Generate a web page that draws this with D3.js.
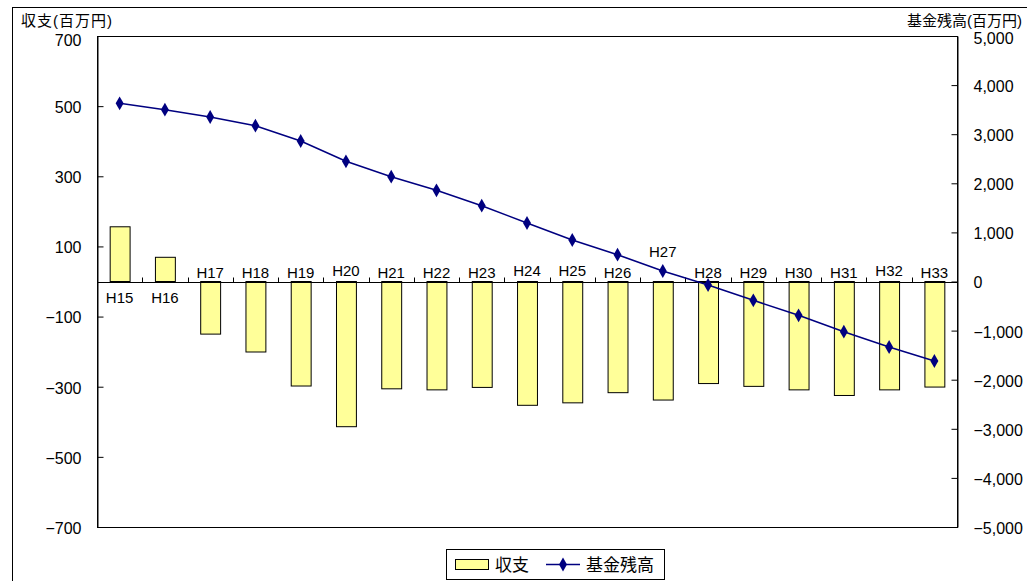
<!DOCTYPE html>
<html>
<head>
<meta charset="utf-8">
<script src="https://cdn.jsdelivr.net/npm/d3@7"></script>
<style>
  body { margin: 0; background: #fff; }
  svg text { font-family: "Liberation Sans", Arial, "Noto Sans CJK JP", sans-serif; fill: #000; }
</style>
</head>
<body>
<svg id="chart" width="1027" height="581"></svg>
<script>
// ----------------------------------------------------------------------------
// Data
// ----------------------------------------------------------------------------

var years = ["H15", "H16", "H17", "H18", "H19", "H20", "H21", "H22", "H23", "H24",
             "H25", "H26", "H27", "H28", "H29", "H30", "H31", "H32", "H33"];

// 収支 (百万円), left axis
var balance = [156, 69, -150, -201, -298, -414, -306, -309, -302, -353,
               -346, -317, -338, -291, -299, -309, -325, -309, -301];

// 基金残高 (百万円), right axis
var fund = [3629, 3499, 3350, 3173, 2862, 2448, 2134, 1857, 1544, 1191,
            845, 546, 214, -71, -383, -688, -1022, -1334, -1619];

var leftTicks = [-700, -500, -300, -100, 100, 300, 500, 700];
var rightTicks = [-5000, -4000, -3000, -2000, -1000, 0, 1000, 2000, 3000, 4000, 5000];

// ----------------------------------------------------------------------------
// Layout
// ----------------------------------------------------------------------------

var plot = {left: 97, right: 957, top: 36, bottom: 527};
var svg = d3.select("#chart");

// outer chart border
svg.append("rect")
    .attr("x", 12.5).attr("y", 7.5)
    .attr("width", 1040).attr("height", 600)
    .attr("fill", "#fff").attr("stroke", "#000").attr("stroke-width", 1);

var x = d3.scaleBand()
    .domain(years)
    .range([plot.left, plot.right])
    .paddingInner(0.56)
    .paddingOuter(0.28);

var yL = d3.scaleLinear().domain([-700, 700]).range([plot.bottom, plot.top]);
var yR = d3.scaleLinear().domain([-5000, 5000]).range([plot.bottom, plot.top]);

// plot area
svg.append("rect")
    .attr("x", plot.left + 0.5).attr("y", plot.top + 0.5)
    .attr("width", plot.right - plot.left).attr("height", plot.bottom - plot.top)
    .attr("fill", "#fff").attr("stroke", "#000").attr("stroke-width", 1);

// left axis
var axL = svg.append("g")
    .attr("transform", "translate(" + (plot.left + 0.5) + ",0)")
    .call(d3.axisLeft(yL).tickValues(leftTicks).tickSize(-6).tickPadding(16));
axL.selectAll("text").style("font-size", "16px").attr("dy", "0.4em");
// top label sits a little lower, under the axis title
axL.selectAll(".tick").filter(function(d) { return d === 700; })
    .select("text").attr("dy", "0.62em");

// right axis
var axR = svg.append("g")
    .attr("transform", "translate(" + (plot.right + 0.5) + ",0)")
    .call(d3.axisRight(yR).tickValues(rightTicks).tickSize(-6).tickPadding(16)
        .tickFormat(d3.format(",")));
axR.selectAll("text").style("font-size", "16px").attr("dy", "0.4em");
axR.selectAll(".tick").filter(function(d) { return d === 5000; })
    .select("text").attr("dy", "0.48em");

[axL, axR].forEach(function(a) {
    a.select(".domain").attr("stroke", "#000");
    a.selectAll(".tick line").attr("stroke", "#000");
});

// axis titles
svg.append("text").attr("x", 21).attr("y", 26)
    .style("font-size", "15px").style("letter-spacing", "1px").text("収支(百万円)");
svg.append("text").attr("x", 907).attr("y", 26)
    .style("font-size", "15px").text("基金残高(百万円)");

// bars
svg.append("g").selectAll("rect")
    .data(balance)
    .enter().append("rect")
    .attr("x", function(d, i) { return x(years[i]) + 0.5; })
    .attr("y", function(d) { return Math.min(yL(d), yL(0)); })
    .attr("width", x.bandwidth())
    .attr("height", function(d) { return Math.abs(yL(d) - yL(0)); })
    .attr("fill", "#FFFF99")
    .attr("stroke", "#000")
    .attr("stroke-width", 1);

// category axis at zero
var zeroY = Math.round(yL(0)) + 0.5;
svg.append("line")
    .attr("x1", plot.left).attr("x2", plot.right)
    .attr("y1", zeroY).attr("y2", zeroY)
    .attr("stroke", "#000");

svg.append("g").selectAll("line")
    .data(years.slice(1))
    .enter().append("line")
    .attr("x1", function(d) { return Math.round(x(d) - x.step() * x.paddingInner() / 2) + 0.5; })
    .attr("x2", function(d) { return Math.round(x(d) - x.step() * x.paddingInner() / 2) + 0.5; })
    .attr("y1", zeroY).attr("y2", zeroY - 5)
    .attr("stroke", "#000");

// category labels: below the axis for positive bars, above for negative ones
var labelLift = {H20: 2, H24: 2, H25: 2, H27: 21, H32: 2};
svg.append("g").selectAll("text")
    .data(years)
    .enter().append("text")
    .attr("x", function(d) { return x(d) + x.bandwidth() / 2; })
    .attr("y", function(d, i) {
        if (balance[i] > 0) return zeroY + 20;
        return zeroY - 5 - (labelLift[d] || 0);
    })
    .attr("text-anchor", "middle")
    .style("font-size", "15px")
    .text(function(d) { return d; });

// fund balance line
var line = d3.line()
    .x(function(d, i) { return x(years[i]) + x.bandwidth() / 2; })
    .y(function(d) { return yR(d); });

svg.append("path")
    .datum(fund)
    .attr("d", line)
    .attr("fill", "none")
    .attr("stroke", "#000080")
    .attr("stroke-width", 1.5);

var diamond = d3.symbol().type(d3.symbolDiamond).size(55);
svg.append("g").selectAll("path")
    .data(fund)
    .enter().append("path")
    .attr("transform", function(d, i) {
        return "translate(" + (x(years[i]) + x.bandwidth() / 2) + "," + yR(d) + ")";
    })
    .attr("d", diamond)
    .attr("fill", "#000080");

// legend
var lg = svg.append("g");
lg.append("rect").attr("x", 446.5).attr("y", 549.5).attr("width", 218).attr("height", 30)
    .attr("fill", "#fff").attr("stroke", "#000");
lg.append("rect").attr("x", 455.5).attr("y", 559.5).attr("width", 33).attr("height", 10)
    .attr("fill", "#FFFF99").attr("stroke", "#000");
lg.append("text").attr("x", 495).attr("y", 571).style("font-size", "17px").text("収支");
lg.append("line").attr("x1", 546).attr("x2", 580).attr("y1", 564.5).attr("y2", 564.5)
    .attr("stroke", "#000080").attr("stroke-width", 1.5);
lg.append("path").attr("transform", "translate(563,564.5)").attr("d", diamond)
    .attr("fill", "#000080");
lg.append("text").attr("x", 586).attr("y", 571).style("font-size", "17px").text("基金残高");
</script>
</body>
</html>
